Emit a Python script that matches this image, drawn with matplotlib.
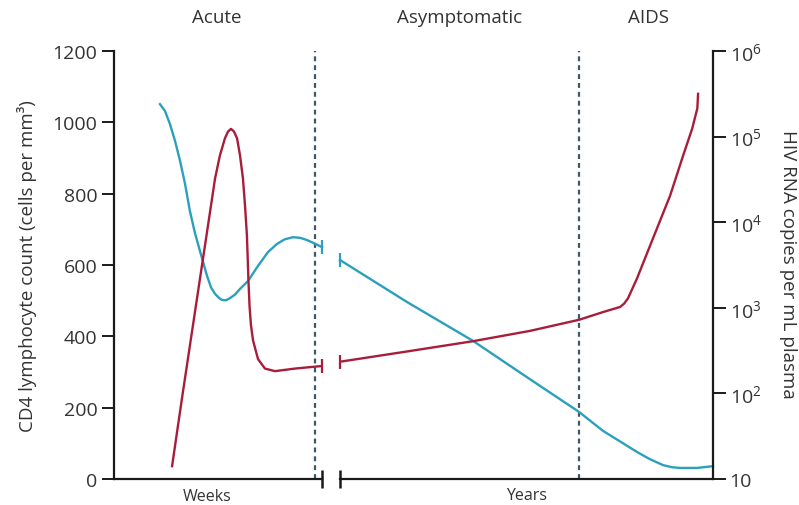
import numpy as np
import matplotlib
matplotlib.use('Agg')
import matplotlib.pyplot as plt
from matplotlib.ticker import NullLocator

plt.rcParams['font.family'] = ['Open Sans', 'DejaVu Sans']
plt.rcParams['mathtext.fontset'] = 'custom'
plt.rcParams['mathtext.rm'] = 'Open Sans'

# --- data ---
# acute phase (weeks)
wk_cd4_x = [2.65, 2.94, 3.23, 3.52, 3.81, 4.10, 4.38, 4.67, 4.96, 5.37, 5.60,
            5.83, 6.05, 6.23, 6.46, 6.69, 6.98, 7.27, 7.73, 8.30, 8.88, 9.40,
            9.85, 10.33, 10.75, 11.13, 11.50, 12.0]
wk_cd4   = [1051, 1032, 995, 948, 892, 827, 751, 690, 639, 569, 537,
            519, 508, 502, 501, 507, 517, 533, 555, 597, 636, 659,
            672, 678, 676, 670, 662, 650]
wk_rna_x = [3.35, 3.92, 4.38, 4.96, 5.31, 5.54, 5.83, 6.11, 6.40, 6.58, 6.75,
            6.92, 7.10, 7.27, 7.44, 7.56, 7.67, 7.71, 7.76, 7.82, 7.90, 8.02,
            8.31, 8.71, 9.29, 10.44, 12.0]
wk_rna_log10 = [1.15, 1.94, 2.56, 3.34, 3.81, 4.12, 4.51, 4.78, 4.98, 5.06, 5.09,
                5.06, 4.98, 4.78, 4.51, 4.19, 3.84, 3.60, 3.30, 3.02, 2.80, 2.62,
                2.40, 2.29, 2.26, 2.29, 2.32]

# asymptomatic / AIDS phase (years)
yr_cd4_x = [0.0, 1.80, 3.57, 5.09, 6.41, 7.05, 7.96, 8.30, 8.66, 8.90, 9.12,
            9.57, 10.0]
yr_cd4   = [614, 496, 387, 280, 188, 135, 76, 56, 39, 33, 31,
            31, 36]
yr_rna_x = [0.0, 1.80, 3.57, 5.09, 6.41, 7.05, 7.51, 7.62, 7.72, 7.96, 8.39,
            8.85, 9.20, 9.44, 9.58, 9.60]
yr_rna_log10 = [2.37, 2.49, 2.61, 2.73, 2.86, 2.95, 3.01, 3.05, 3.11, 3.34, 3.81,
                4.31, 4.78, 5.09, 5.33, 5.50]

acute_end_wk = 11.6
aids_start_yr = 6.41

cd4_ticks = [0, 200, 400, 600, 800, 1000, 1200]
rna_ticks = [10, 1e2, 1e3, 1e4, 1e5, 1e6]
rna_labels = ['10'] + [r'$\mathregular{10^{%d}}$' % k for k in range(2, 7)]

BLUE = '#2ba0bd'
RED  = '#a91d3c'
INK  = '#1a1a1a'
TXT  = '#333333'
DASH = '#3e5866'

W, H = 799, 506
fig = plt.figure(figsize=(W / 100, H / 100), dpi=100)


def box(x0, x1, y_top=52, y_bot=480):
    return [x0 / W, 1 - y_bot / H, (x1 - x0) / W, (y_bot - y_top) / H]


axw = fig.add_axes(box(114, 322))
axy = fig.add_axes(box(340, 713))
axw_r = axw.twinx()
axy_r = axy.twinx()

for a in (axw, axy):
    a.set_ylim(0, 1200)
    a.set_facecolor('none')
for a in (axw_r, axy_r):
    a.set_yscale('log')
    a.set_ylim(10, 1e6)
    a.yaxis.set_minor_locator(NullLocator())
axw.set_xlim(0, 12)
axy.set_xlim(0, 10)

for a in (axw, axy, axw_r, axy_r):
    for s in a.spines.values():
        s.set_visible(False)
    a.set_xticks([])
    a.tick_params(axis='y', which='both', left=False, right=False,
                  labelleft=False, labelright=False)

# left axis
axw.spines['left'].set_visible(True)
axw.spines['left'].set_linewidth(1.6)
axw.spines['left'].set_color(INK)
axw.set_yticks(cd4_ticks)
axw.tick_params(axis='y', left=True, labelleft=True, length=9, width=1.4,
                color=INK, labelsize=14, labelcolor=TXT, pad=3)

# right axis
axy_r.spines['right'].set_visible(True)
axy_r.spines['right'].set_linewidth(1.6)
axy_r.spines['right'].set_color(INK)
axy_r.set_yticks(rna_ticks)
axy_r.set_yticklabels(rna_labels)
axy_r.tick_params(axis='y', which='major', right=True, labelright=True, length=9,
                  width=1.4, color=INK, labelsize=14, labelcolor=TXT, pad=3)

# bottom axis with break
for a in (axw, axy):
    a.spines['bottom'].set_visible(True)
    a.spines['bottom'].set_linewidth(1.6)
    a.spines['bottom'].set_color(INK)
axw.plot([12], [0], marker='|', ms=13, mew=1.8, color=INK, clip_on=False)
axy.plot([0], [0], marker='|', ms=13, mew=1.8, color=INK, clip_on=False)

# phase boundaries
axw.axvline(acute_end_wk, color=DASH, lw=1.6, ls=(0, (2.2, 1.8)), zorder=1)
axy.axvline(aids_start_yr, color=DASH, lw=1.6, ls=(0, (2.2, 1.8)), zorder=1)

# curves
line_kw = dict(lw=1.7, zorder=3, solid_joinstyle='round')
axw.plot(wk_cd4_x, wk_cd4, color=BLUE, clip_on=False, **line_kw)
axy.plot(yr_cd4_x, yr_cd4, color=BLUE, clip_on=False, **line_kw)
axw_r.plot(wk_rna_x, 10 ** np.array(wk_rna_log10), color=RED, **line_kw)
axy_r.plot(yr_rna_x, 10 ** np.array(yr_rna_log10), color=RED, **line_kw)

# break caps on the curves
cap_kw = dict(marker='|', ms=10, mew=1.6, clip_on=False)
axw.plot(wk_cd4_x[-1], wk_cd4[-1], color=BLUE, **cap_kw)
axy.plot(yr_cd4_x[0], yr_cd4[0], color=BLUE, **cap_kw)
axw_r.plot(wk_rna_x[-1], 10 ** wk_rna_log10[-1], color=RED, **cap_kw)
axy_r.plot(yr_rna_x[0], 10 ** yr_rna_log10[0], color=RED, **cap_kw)

# texts
def ftext(px, py, s, **kw):
    fig.text(px / W, 1 - py / H, s, ha='center', va='center', color=TXT, **kw)


ftext(27, 266, 'CD4 lymphocyte count (cells per mm³)', rotation=90, fontsize=13.5)
ftext(788, 264, 'HIV RNA copies per mL plasma', rotation=270, fontsize=13.5)
ftext(217, 18, 'Acute', fontsize=13.5)
ftext(460, 18, 'Asymptomatic', fontsize=13.5)
ftext(648, 18, 'AIDS', fontsize=13.5)
ftext(207, 497, 'Weeks', fontsize=11.5)
ftext(527, 496, 'Years', fontsize=11.5)

fig.savefig('out.png', dpi=100)
